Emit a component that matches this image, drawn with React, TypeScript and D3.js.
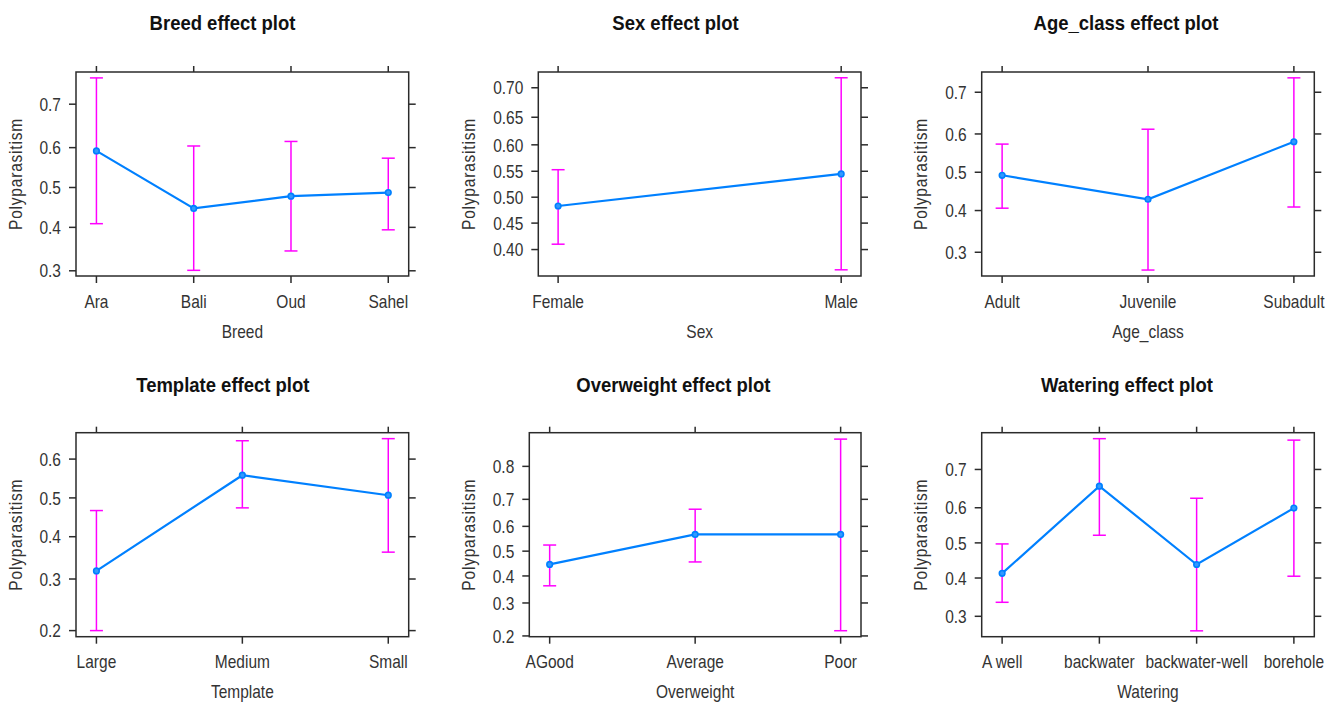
import React from "react";
import * as d3 from "d3";

// ---------- data ----------
const breedLevels = ["Ara", "Bali", "Oud", "Sahel"];
const breedFit = [0.592, 0.447, 0.478, 0.487];
const breedLower = [0.409, 0.301, 0.344, 0.394];
const breedUpper = [0.753, 0.604, 0.615, 0.574];
const breedTicks = [0.3, 0.4, 0.5, 0.6, 0.7];
const breedTickLabels = ["0.3", "0.4", "0.5", "0.6", "0.7"];
const breedLimits = [0.289, 0.764];

const sexLevels = ["Female", "Male"];
const sexFit = [0.483, 0.545];
const sexLower = [0.41, 0.363];
const sexUpper = [0.553, 0.716];
const sexTicks = [0.4, 0.45, 0.5, 0.55, 0.6, 0.65, 0.7];
const sexTickLabels = ["0.40", "0.45", "0.50", "0.55", "0.60", "0.65", "0.70"];
const sexLimits = [0.352, 0.725];

const ageLevels = ["Adult", "Juvenile", "Subadult"];
const ageFit = [0.492, 0.429, 0.58];
const ageLower = [0.406, 0.262, 0.409];
const ageUpper = [0.574, 0.612, 0.731];
const ageTicks = [0.3, 0.4, 0.5, 0.6, 0.7];
const ageTickLabels = ["0.3", "0.4", "0.5", "0.6", "0.7"];
const ageLimits = [0.25, 0.743];

const templateLevels = ["Large", "Medium", "Small"];
const templateFit = [0.318, 0.559, 0.507];
const templateLower = [0.2, 0.474, 0.362];
const templateUpper = [0.467, 0.645, 0.65];
const templateTicks = [0.2, 0.3, 0.4, 0.5, 0.6];
const templateTickLabels = ["0.2", "0.3", "0.4", "0.5", "0.6"];
const templateLimits = [0.19, 0.664];

const overweightLevels = ["AGood", "Average", "Poor"];
const overweightFit = [0.446, 0.568, 0.568];
const overweightLower = [0.362, 0.456, 0.214];
const overweightUpper = [0.525, 0.665, 0.862];
const overweightTicks = [0.2, 0.3, 0.4, 0.5, 0.6, 0.7, 0.8];
const overweightTickLabels = ["0.2", "0.3", "0.4", "0.5", "0.6", "0.7", "0.8"];
const overweightLimits = [0.198, 0.874];

const wateringLevels = ["A well", "backwater", "backwater-well", "borehole"];
const wateringFit = [0.413, 0.658, 0.438, 0.599];
const wateringLower = [0.335, 0.522, 0.266, 0.405];
const wateringUpper = [0.497, 0.769, 0.626, 0.766];
const wateringTicks = [0.3, 0.4, 0.5, 0.6, 0.7];
const wateringTickLabels = ["0.3", "0.4", "0.5", "0.6", "0.7"];
const wateringLimits = [0.253, 0.781];

const yLabel = "Polyparasitism";

const panels = [
  { title: "Breed effect plot", xlab: "Breed", levels: breedLevels, fit: breedFit, lower: breedLower, upper: breedUpper, ticks: breedTicks, tickLabels: breedTickLabels, limits: breedLimits },
  { title: "Sex effect plot", xlab: "Sex", levels: sexLevels, fit: sexFit, lower: sexLower, upper: sexUpper, ticks: sexTicks, tickLabels: sexTickLabels, limits: sexLimits },
  { title: "Age_class effect plot", xlab: "Age_class", levels: ageLevels, fit: ageFit, lower: ageLower, upper: ageUpper, ticks: ageTicks, tickLabels: ageTickLabels, limits: ageLimits },
  { title: "Template effect plot", xlab: "Template", levels: templateLevels, fit: templateFit, lower: templateLower, upper: templateUpper, ticks: templateTicks, tickLabels: templateTickLabels, limits: templateLimits },
  { title: "Overweight effect plot", xlab: "Overweight", levels: overweightLevels, fit: overweightFit, lower: overweightLower, upper: overweightUpper, ticks: overweightTicks, tickLabels: overweightTickLabels, limits: overweightLimits },
  { title: "Watering effect plot", xlab: "Watering", levels: wateringLevels, fit: wateringFit, lower: wateringLower, upper: wateringUpper, ticks: wateringTicks, tickLabels: wateringTickLabels, limits: wateringLimits },
];

// ---------- layout ----------
const layouts = [
  { left: 76, right: 408.7, top: 72, bottom: 276, titleX: 222.5, titleY: 30, ylabX: 21.7, xtickY: 308.3, xlabY: 338.3 },
  { left: 538.3, right: 861, top: 72, bottom: 276, titleX: 675.5, titleY: 30, ylabX: 475, xtickY: 308.3, xlabY: 338.3 },
  { left: 981.7, right: 1314.3, top: 72, bottom: 276, titleX: 1126, titleY: 30, ylabX: 927.3, xtickY: 308.3, xlabY: 338.3 },
  { left: 76, right: 408.7, top: 432.7, bottom: 636.7, titleX: 222.8, titleY: 391.7, ylabX: 21.7, xtickY: 668.3, xlabY: 698.3 },
  { left: 529.3, right: 861, top: 432.7, bottom: 636.7, titleX: 673.3, titleY: 391.7, ylabX: 475, xtickY: 668.3, xlabY: 698.3 },
  { left: 981.7, right: 1314.3, top: 432.7, bottom: 636.7, titleX: 1127, titleY: 391.7, ylabX: 927.3, xtickY: 668.3, xlabY: 698.3 },
];

const logit = (p: number) => Math.log(p / (1 - p));

const FONT = "'Liberation Sans', Arial, sans-serif";
const TEXT_COL = "#333333";
const FRAME_COL = "#2b2b2b";
const LINE_COL = "#0080ff";
const ERR_COL = "#ff00ff";
const FS = 15.5;
const SY = 1.2;

function Panel({ p, l }: { p: (typeof panels)[number]; l: (typeof layouts)[number] }) {
  const n = p.levels.length;
  const pad = 0.07 * (n - 1);
  const x = d3.scaleLinear().domain([1 - pad, n + pad]).range([l.left, l.right]);
  const y = d3
    .scaleLinear()
    .domain([logit(p.limits[0]), logit(p.limits[1])])
    .range([l.bottom, l.top]);
  const xs = p.levels.map((_, i) => x(i + 1));
  const line = d3
    .line<number>()
    .x((_, i) => xs[i])
    .y((v) => y(logit(v)));
  const tl = 7;
  const cap = 6.5;
  const cy = (l.top + l.bottom) / 2;
  return (
    <g>
      {/* title */}
      <g transform={`translate(${l.titleX},${l.titleY}) scale(1,1.13)`}>
        <text textAnchor="middle" fontFamily={FONT} fontWeight="bold" fontSize={18.5} fill="#111">
          {p.title}
        </text>
      </g>
      {/* frame */}
      <rect x={l.left} y={l.top} width={l.right - l.left} height={l.bottom - l.top} fill="none" stroke={FRAME_COL} strokeWidth={1.5} />
      {/* y ticks left/right */}
      {p.ticks.map((t, i) => {
        const yy = y(logit(t));
        return (
          <g key={"yt" + i}>
            <line x1={l.left - tl} x2={l.left} y1={yy} y2={yy} stroke={FRAME_COL} strokeWidth={1.5} />
            <line x1={l.right} x2={l.right + tl} y1={yy} y2={yy} stroke={FRAME_COL} strokeWidth={1.5} />
            <g transform={`translate(${l.left - 15},${yy}) scale(1,${SY})`}>
              <text textAnchor="end" dy="0.36em" fontFamily={FONT} fontSize={FS} fill={TEXT_COL}>
                {p.tickLabels[i]}
              </text>
            </g>
          </g>
        );
      })}
      {/* x ticks top/bottom */}
      {p.levels.map((lev, i) => (
        <g key={"xt" + i}>
          <line x1={xs[i]} x2={xs[i]} y1={l.top - 6} y2={l.top} stroke={FRAME_COL} strokeWidth={1.5} />
          <line x1={xs[i]} x2={xs[i]} y1={l.bottom} y2={l.bottom + tl} stroke={FRAME_COL} strokeWidth={1.5} />
          <g transform={`translate(${xs[i]},${l.xtickY}) scale(1,${SY})`}>
            <text textAnchor="middle" fontFamily={FONT} fontSize={FS} fill={TEXT_COL}>
              {lev}
            </text>
          </g>
        </g>
      ))}
      {/* axis labels */}
      <g transform={`translate(${(l.left + l.right) / 2},${l.xlabY}) scale(1,${SY})`}>
        <text textAnchor="middle" fontFamily={FONT} fontSize={FS} fill={TEXT_COL}>
          {p.xlab}
        </text>
      </g>
      <g transform={`translate(${l.ylabX},${cy}) rotate(-90) scale(1,${SY})`}>
        <text textAnchor="middle" fontFamily={FONT} fontSize={FS} letterSpacing={0.8} fill={TEXT_COL}>
          {yLabel}
        </text>
      </g>
      {/* fitted line */}
      <path d={line(p.fit) || ""} fill="none" stroke={LINE_COL} strokeWidth={2.2} />
      {/* error bars */}
      {p.levels.map((_, i) => {
        const yl = y(logit(p.lower[i]));
        const yu = y(logit(p.upper[i]));
        return (
          <g key={"eb" + i} stroke={ERR_COL} strokeWidth={1.5}>
            <line x1={xs[i]} x2={xs[i]} y1={yl} y2={yu} />
            <line x1={xs[i] - cap} x2={xs[i] + cap} y1={yl} y2={yl} />
            <line x1={xs[i] - cap} x2={xs[i] + cap} y1={yu} y2={yu} />
          </g>
        );
      })}
      {/* points */}
      {p.fit.map((v, i) => (
        <circle key={"pt" + i} cx={xs[i]} cy={y(logit(v))} r={2.8} fill="#3399ff" stroke={LINE_COL} strokeWidth={1.6} />
      ))}
    </g>
  );
}

export default function App() {
  return (
    <svg
      width={1336}
      height={702}
      viewBox="0 0 1336 702"
      style={{ position: "absolute", left: 0, top: 0, background: "#ffffff", display: "block" }}
    >
      <rect x={0} y={0} width={1336} height={702} fill="#ffffff" />
      {panels.map((p, i) => (
        <Panel key={i} p={p} l={layouts[i]} />
      ))}
    </svg>
  );
}
